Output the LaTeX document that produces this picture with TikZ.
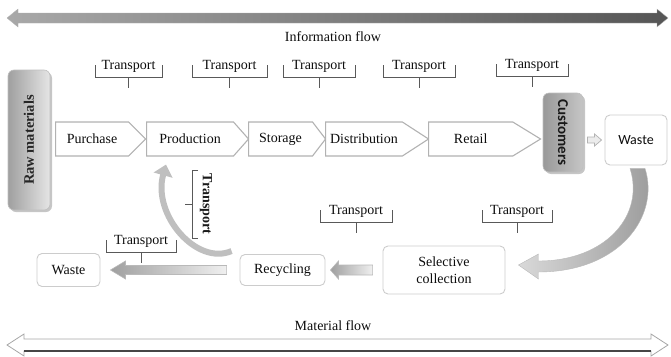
\documentclass[tikz,border=0pt]{standalone}
\usepackage{fontspec}
\setmainfont{Liberation Serif}
\newfontfamily\calib{Carlito}
\usetikzlibrary{shapes.symbols,shadows,calc,arrows.meta}

\newcommand\fs{\fontsize{14}{17}\selectfont}
% label "Transport" with a bracket under it: name, centre x, centre y, half width
\newcommand\tbrace[4]{%
  \node[lbl] (#1) at (#2,#3) {Transport};
  \draw[bracel] ($(#1)+(-#4,-1)$) -- ++(0,12) -- ++({2*#4},0) -- ++(0,-12);
  \draw[bracel] ($(#1)+(0,11)$) -- ++(0,11);
}

\begin{document}
\begin{tikzpicture}[x=1pt,y=-1pt,
  lbl/.style={font=\fs, inner sep=1pt, text=black!95},
  bracel/.style={draw=gray!70!black, line width=0.8pt},
  stepbox/.style={signal, signal to=east, draw=gray!60, line width=1.1pt, fill=white,
    minimum height=34pt, inner sep=0pt, font=\fs, text=black!95, anchor=west},
  rbox/.style={draw=gray!40, line width=0.9pt, rounded corners=5pt, fill=white,
    font=\fs, text=black!95, inner sep=0pt, align=center},
  sidebox/.style={rounded corners=6pt, draw=gray!50, line width=0.6pt,
    drop shadow={shadow xshift=2pt,shadow yshift=-2pt,opacity=0.45}, inner sep=0pt},
  blockarrow/.style={draw=gray!55, line width=0.6pt, left color=gray!75, right color=gray!12},
]
\useasboundingbox (0,0) rectangle (671,356);

% information flow
\coordinate (infoL) at (7,18);
\coordinate (infoR) at (668,18);
\path[left color=gray!68, right color=gray!67!black, draw=gray!60, line width=0.3pt]
  (infoL) -- ($(infoL)+(11,-9)$) -- ($(infoL)+(11,-5)$) -- ($(infoR)+(-11,-5)$)
  -- ($(infoR)+(-11,-9)$) -- (infoR) -- ($(infoR)+(-11,9)$) -- ($(infoR)+(-11,5)$)
  -- ($(infoL)+(11,5)$) -- ($(infoL)+(11,9)$) -- cycle;
\node[lbl] (infot) at (333,37) {Information flow};

% side boxes
\node[sidebox, left color=gray!75, right color=gray!20, minimum width=42pt, minimum height=140pt] (raw) at (29,140) {};
\node[rotate=90, font=\fontsize{14.5}{17}\selectfont\bfseries, text=black!85] (rawt) at (raw.center) {Raw materials};
\node[sidebox, left color=gray!80, right color=gray!45, minimum width=40pt, minimum height=79pt] (cust) at (563,132.5) {};
\node[rotate=-90, font=\calib\bfseries\fontsize{15}{17}\selectfont, text=black!90] (custt) at (cust.center) {Customers};

% main chain
\node[stepbox, minimum width=90pt, signal pointer angle=90] (pur) at (55,139) {Purchase};
\node[stepbox, minimum width=102pt, signal pointer angle=97] (prod) at (146,139) {Production};
\node[stepbox, minimum width=77pt, signal pointer angle=105] (stor) at (248,139) {Storage};
\node[stepbox, minimum width=103pt, signal pointer angle=66] (dist) at (325,139) {Distribution};
\node[stepbox, minimum width=112pt, signal pointer angle=63] (ret) at (428,139) {Retail};

% transport labels over the chain
\tbrace{t1}{128.5}{66}{33.5}
\tbrace{t2}{229.5}{66}{37.5}
\tbrace{t3}{319}{66}{36}
\tbrace{t4}{419}{66}{36}
\tbrace{t5}{532}{65}{36}

% waste after use
\node[rbox, font=\calib\fontsize{14}{17}\selectfont, minimum width=62pt, minimum height=50pt] (wR) at (636,140) {Waste};
\path[draw=gray!60, fill=gray!15, line width=0.7pt]
  ($(wR.west)+(-17,-3)$) -- ++(7,0) -- ++(0,-3) -- ++(7,6) -- ++(-7,6) -- ++(0,-3) -- ++(-7,0) -- cycle;

% return loop
\node[rbox, minimum width=63pt, minimum height=33pt] (w2) at (68.5,270) {Waste};
\node[rbox, minimum width=85pt, minimum height=31pt] (rec) at (282.5,270) {Recycling};
\node[rbox, minimum width=122pt, minimum height=48pt] (sel) at (444,270) {Selective\\collection};

% curved arrow from waste to selective collection
\path[left color=gray!30, right color=gray!80, draw=gray!55, line width=0.4pt]
  ($(wR.south)+(-6,3)$) -- ++(15,0)
  .. controls +(15,47) and +(82,0) .. ($(sel.east)+(33,2)$)
  -- ++(0,7) -- ($(sel.east)+(13,-5)$) -- ++(20,-11) -- ++(0,7)
  .. controls +(67,0) and +(15,47) .. ($(wR.south)+(-6,3)$) -- cycle;

% curved arrow from recycling back to production
\draw[line width=6pt, gray!50, -{Triangle[width=19pt,length=11pt]}]
  ($(rec.north west)+(-8,-3)$) .. controls +(-35,15) and +(-14,50) .. ($(prod.south)+(-24,8)$);

% block arrows of the return loop
\path[blockarrow]
  ($(sel.west)+(-10,-5)$) -- ($(rec.east)+(13,-5)$) -- ($(rec.east)+(13,-9)$) -- ($(rec.east)+(5,0)$)
  -- ($(rec.east)+(13,9)$) -- ($(rec.east)+(13,5)$) -- ($(sel.west)+(-10,5)$) -- cycle;
\path[blockarrow]
  ($(rec.west)+(-13,-4.5)$) -- ($(w2.east)+(25,-4.5)$) -- ($(w2.east)+(25,-9)$) -- ($(w2.east)+(10,0)$)
  -- ($(w2.east)+(25,9)$) -- ($(w2.east)+(25,4.5)$) -- ($(rec.west)+(-13,4.5)$) -- cycle;

% transport labels of the return loop
\tbrace{t6}{141}{241}{35}
\tbrace{t7}{356}{211}{36}
\tbrace{t8}{517}{211}{35}

% transport between recycling and production
\node[font=\fs\bfseries, rotate=-90, inner sep=1pt, text=black!90] (vt) at (206,204) {Transport};
\draw[bracel] ($(vt)+(-8,-34)$) -- ++(-6,0) -- ++(0,68) -- ++(6,0);
\draw[bracel] ($(vt)+(-14,0)$) -- ++(-7,0);

% material flow
\node[lbl] (matt) at (333,326) {Material flow};
\coordinate (matL) at (7,345);
\coordinate (matR) at (668,345);
\path[draw=gray!70, fill=white, line width=0.8pt]
  (matL) -- ($(matL)+(17,-11)$) -- ($(matL)+(17,-6)$) -- ($(matR)+(-17,-6)$)
  -- ($(matR)+(-17,-11)$) -- (matR) -- ($(matR)+(-17,11)$) -- ($(matR)+(-17,6)$)
  -- ($(matL)+(17,6)$) -- ($(matL)+(17,11)$) -- cycle;
\draw[gray!55!black, line width=2.2pt] ($(matL)+(17,6)$) -- ($(matR)+(-17,6)$);
\end{tikzpicture}
\end{document}
